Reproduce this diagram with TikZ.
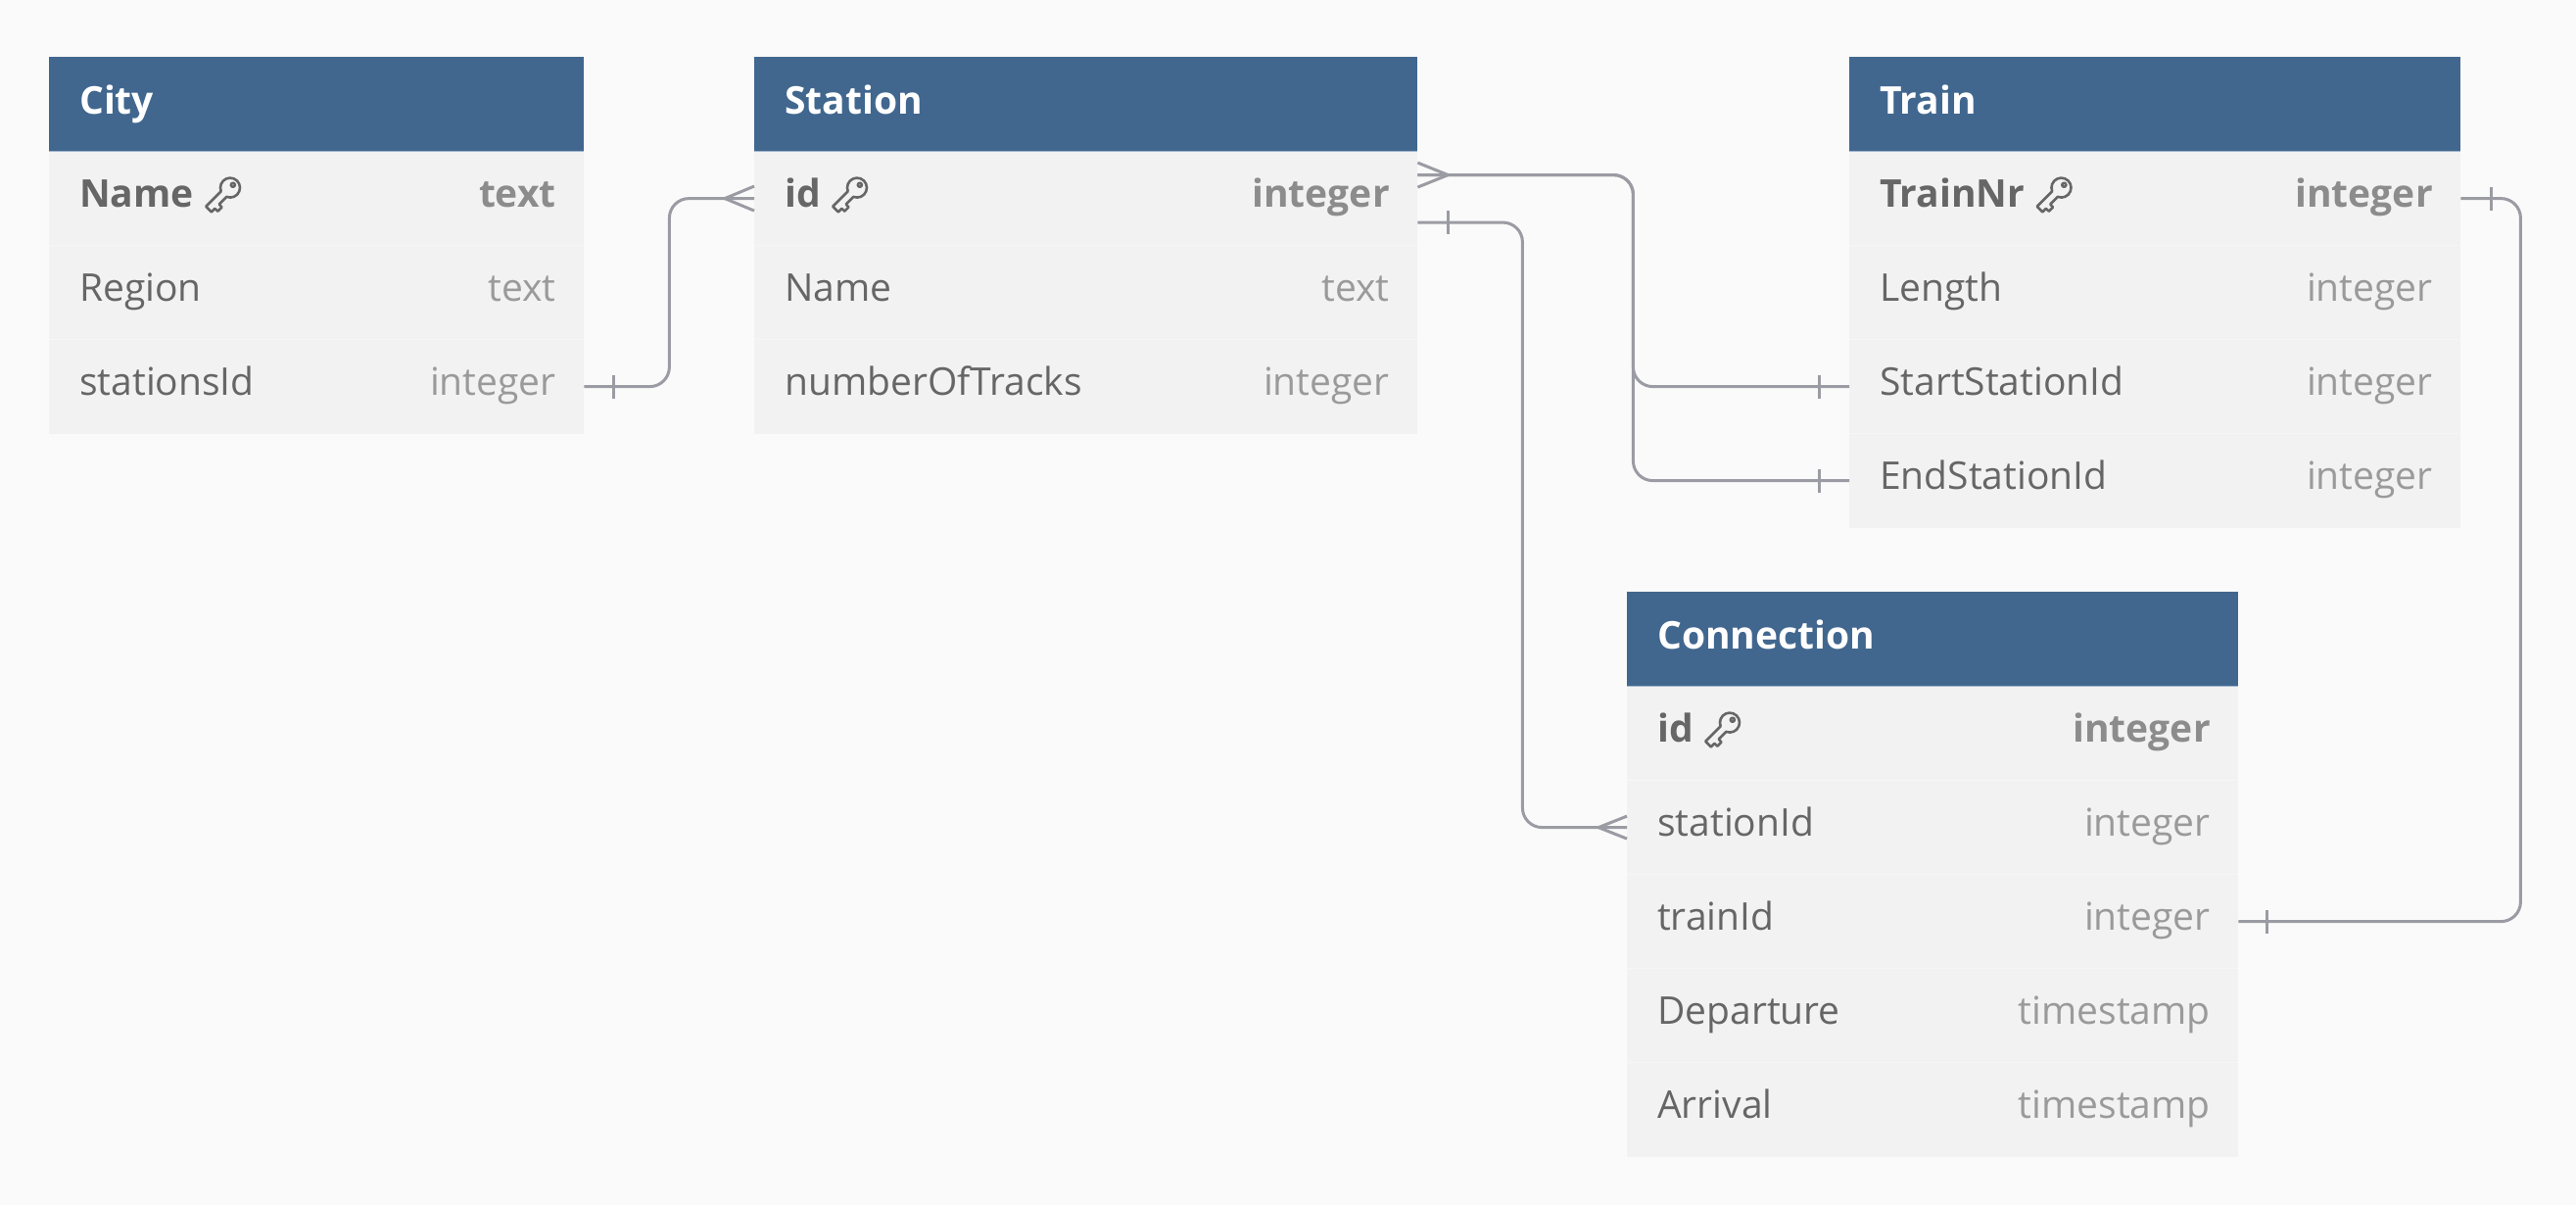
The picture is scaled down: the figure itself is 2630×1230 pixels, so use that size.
\documentclass[tikz,border=0pt]{standalone}
\usepackage{fontspec}
\setmainfont{Open Sans}
\usetikzlibrary{calc}
\definecolor{bg}{HTML}{FAFAFA}
\definecolor{hdr}{HTML}{41678F}
\definecolor{hdredge}{HTML}{A3B6CC}
\definecolor{rowbg}{HTML}{F2F2F2}
\definecolor{rowsep}{HTML}{F6F6F6}
\definecolor{nametxt}{HTML}{666666}
\definecolor{typetxt}{HTML}{9A9A9A}
\definecolor{typebold}{HTML}{8C8C8C}
\definecolor{linec}{HTML}{9B9BA3}
\tikzset{
  hdrbox/.style={anchor=north west, fill=hdr, minimum height=96pt, inner sep=0pt},
  hdrtext/.style={inner sep=0pt, text=white, font=\fontsize{39}{46}\selectfont\bfseries, text height=30pt, text depth=10pt},
  rowbox/.style={anchor=north west, fill=rowbg, minimum height=96pt, inner sep=0pt},
  plainname/.style={inner sep=0pt, text=nametxt, font=\fontsize{39}{46}\selectfont, text height=30pt, text depth=12pt},
  plaintype/.style={inner sep=0pt, text=typetxt, font=\fontsize{39}{46}\selectfont, text height=30pt, text depth=12pt},
  boldname/.style={inner sep=0pt, text=nametxt, font=\fontsize{39}{46}\selectfont\bfseries, text height=30pt, text depth=12pt},
  boldtype/.style={inner sep=0pt, text=typebold, font=\fontsize{39}{46}\selectfont\bfseries, text height=30pt, text depth=12pt},
  rowline/.style={draw=rowsep, line width=1.5pt},
  hdrline/.style={draw=hdredge, line width=1.5pt},
  conn/.style={draw=linec, line width=3pt, rounded corners=20pt},
  connmark/.style={draw=linec, line width=3pt},
  keyline/.style={draw=nametxt, line width=2.6pt, line join=round},
}
\newcommand{\ertw}{546pt}
\newcommand{\ertable}[4]{% id, x, y, title
  \node[hdrbox, minimum width=\ertw] (#1) at (#2,#3) {};
  \node[hdrtext, anchor=west] (#1-title) at ([xshift=31pt]#1.west) {#4};
}
\newcommand{\errow}[5]{% id, n, field, type, plain/bold
  \node[rowbox, minimum width=\ertw] (#1-r#2) at ($(#1.south west)+(0,{96*(#2-1)})$) {};
  \node[#5name, anchor=west] (#1-n#2) at ([xshift=31pt]#1-r#2.west) {#3};
  \node[#5type, anchor=east] (#1-t#2) at ([xshift=-28.5pt]#1-r#2.east) {#4};
}
\newcommand{\ersep}[2]{\draw[rowline] (#1-r#2.north west) -- (#1-r#2.north east);}
\newcommand{\erkey}[2]{%
  \begin{scope}[shift={($(#1-n#2.east |- #1-r#2.center)+(37,-11)$)}, rotate=45]
    \draw[keyline] (-9.17,-4) -- (-31,-4) -- (-31,4) -- (-26,4) -- (-26,8) -- (-20,8) -- (-20,4) -- (-9.17,4)
      arc[start angle=156.4, end angle=-156.4, radius=10] -- cycle;
    \draw[keyline] (4,0) circle[radius=2];
  \end{scope}
}
\begin{document}
\begin{tikzpicture}[x=1pt, y=-1pt]
\fill[bg] (0,0) rectangle (2630,1230);
\useasboundingbox (0,0) rectangle (2630,1230);

% City
\renewcommand{\ertw}{546pt}
\ertable{city}{50}{58}{City}
\errow{city}{1}{Name}{text}{bold}
\errow{city}{2}{Region}{text}{plain}
\errow{city}{3}{stationsId}{integer}{plain}
\ersep{city}{2}\ersep{city}{3}
\draw[hdrline] (city.south west) -- (city.south east);
\erkey{city}{1}

% Station
\renewcommand{\ertw}{677pt}
\ertable{station}{770}{58}{Station}
\errow{station}{1}{id}{integer}{bold}
\errow{station}{2}{Name}{text}{plain}
\errow{station}{3}{numberOfTracks}{integer}{plain}
\ersep{station}{2}\ersep{station}{3}
\draw[hdrline] (station.south west) -- (station.south east);
\erkey{station}{1}

% Train
\renewcommand{\ertw}{624pt}
\ertable{train}{1888}{58}{Train}
\errow{train}{1}{TrainNr}{integer}{bold}
\errow{train}{2}{Length}{integer}{plain}
\errow{train}{3}{StartStationId}{integer}{plain}
\errow{train}{4}{EndStationId}{integer}{plain}
\ersep{train}{2}\ersep{train}{3}\ersep{train}{4}
\draw[hdrline] (train.south west) -- (train.south east);
\erkey{train}{1}

% Connection
\renewcommand{\ertw}{624pt}
\ertable{conn}{1661}{604}{Connection}
\errow{conn}{1}{id}{integer}{bold}
\errow{conn}{2}{stationId}{integer}{plain}
\errow{conn}{3}{trainId}{integer}{plain}
\errow{conn}{4}{Departure}{timestamp}{plain}
\errow{conn}{5}{Arrival}{timestamp}{plain}
\ersep{conn}{2}\ersep{conn}{3}\ersep{conn}{4}\ersep{conn}{5}
\draw[hdrline] (conn.south west) -- (conn.south east);
\erkey{conn}{1}

% City -> Station
\draw[conn] (city-r3.east) -- ++(87,0) |- (station-r1.west);
\draw[connmark] ([xshift=30pt]city-r3.east) ++(0,-12) -- ++(0,24);
\draw[connmark] ([yshift=12.5pt]station-r1.west) -- ([xshift=-30pt]station-r1.west) -- ([yshift=-12.5pt]station-r1.west);

% Station -> Train
\coordinate (sA) at ([yshift=24pt]station-r1.east);
\coordinate (sB) at ([yshift=-24.5pt]station-r1.east);
\draw[conn] (sA) -- ++(220,0) |- (train-r3.west);
\draw[conn] (sA) -- ++(220,0) |- (train-r4.west);
\draw[connmark] ([yshift=12.5pt]sA) -- ([xshift=31pt]sA) -- ([yshift=-12.5pt]sA);
\draw[connmark] ([xshift=-31pt]train-r3.west) ++(0,-12) -- ++(0,24);
\draw[connmark] ([xshift=-31pt]train-r4.west) ++(0,-12) -- ++(0,24);

% Station -> Connection
\draw[conn] (sB) -- ++(107,0) |- (conn-r2.west);
\draw[connmark] ([xshift=31pt]sB) ++(0,-12) -- ++(0,24);
\draw[connmark] ([yshift=11.5pt]conn-r2.west) -- ([xshift=-29pt]conn-r2.west) -- ([yshift=-11.5pt]conn-r2.west);

% Train -> Connection
\draw[conn] (train-r1.east) -- ++(61,0) |- (conn-r3.east);
\draw[connmark] ([xshift=31pt]train-r1.east) ++(0,-12) -- ++(0,24);
\draw[connmark] ([xshift=29pt]conn-r3.east) ++(0,-12) -- ++(0,24);
\end{tikzpicture}
\end{document}
